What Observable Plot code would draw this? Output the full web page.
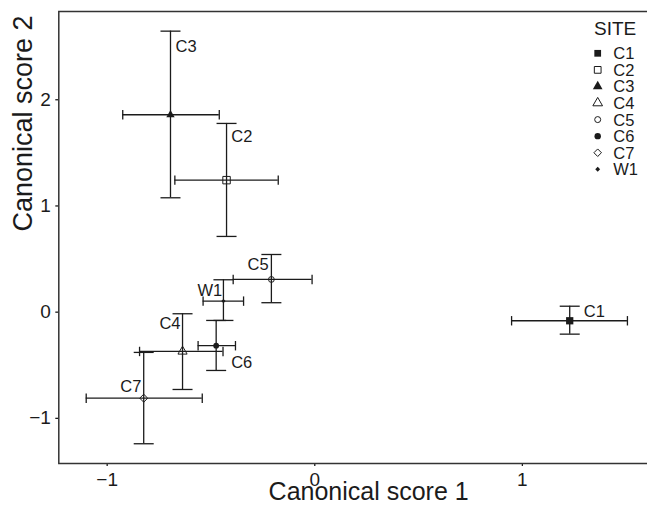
<!DOCTYPE html>
<html><head><meta charset="utf-8">
<script src="https://cdn.jsdelivr.net/npm/d3@7"></script>
<script src="https://cdn.jsdelivr.net/npm/@observablehq/plot@0.6"></script>
<style>
html,body{margin:0;padding:0;overflow:hidden;background:#fff;}
#wrap{position:relative;width:647px;height:508px;overflow:hidden;}
#wrap > svg{max-width:none !important;height:508px !important;display:block;}
#legend{position:absolute;left:0;top:0;pointer-events:none;}
</style></head><body><div id="wrap"></div>
<script>
// ---- data ----
const sites = ["C1","C2","C3","C4","C5","C6","C7","W1"];
const score1     = [ 1.228, -0.425, -0.695, -0.637, -0.209, -0.475, -0.824, -0.440];
const score1Low  = [ 0.948, -0.674, -0.925, -0.844, -0.393, -0.562, -1.101, -0.538];
const score1High = [ 1.506, -0.176, -0.460, -0.442, -0.013, -0.382, -0.542, -0.343];
const score2     = [-0.081,  1.243,  1.859, -0.370,  0.308, -0.316, -0.810,  0.104];
const score2Low  = [-0.207,  0.713,  1.077, -0.728,  0.089, -0.549, -1.239, -0.078];
const score2High = [ 0.056,  1.777,  2.646, -0.015,  0.543, -0.078, -0.379,  0.305];
const xTicks = [-1, 0, 1];
const yTicks = [-1, 0, 1, 2];
const xTitle = "Canonical score 1";
const yTitle = "Canonical score 2";
const legendTitle = "SITE";

// ---- styles ----
const ink = "#1b1b1b";
const font = "'Liberation Sans', Arial, Helvetica, sans-serif";
const symbolName = {C1:"square",C2:"square",C3:"triangle",C4:"triangle",C5:"circle",C6:"circle",C7:"diamond2",W1:"diamond2"};
const isFilled   = {C1:true,C2:false,C3:true,C4:false,C5:false,C6:true,C7:false,W1:true};
const symbolR    = {C1:4.1,C2:4.2,C3:3.1,C4:3.4,C5:2.9,C6:2.9,C7:3.6,W1:1.9};
const labelPlace = {
  C1:{anchor:"start",dx:14,dy:-8.6}, C2:{anchor:"start",dx:4.7,dy:-43},
  C3:{anchor:"start",dx:5,dy:-67.6}, C4:{anchor:"end",dx:-2,dy:-27.7},
  C5:{anchor:"end",dx:-2.7,dy:-14.7}, C6:{anchor:"start",dx:15,dy:17.4},
  C7:{anchor:"end",dx:-2.3,dy:-11}, W1:{anchor:"end",dx:-1.3,dy:-10.7}
};

const rows = sites.map((s, i) => ({
  site: s, x: score1[i], x1: score1Low[i], x2: score1High[i],
  y: score2[i], y1: score2Low[i], y2: score2High[i]
}));

const capH = {draw(ctx){ ctx.moveTo(-10,0); ctx.lineTo(10,0); }};
const capV = {draw(ctx){ ctx.moveTo(0,-4.7); ctx.lineTo(0,4.7); }};
const lw = 1.3;

const plot = Plot.plot({
  width: 678, height: 508,
  marginLeft: 58.3, marginRight: 0, marginTop: 11, marginBottom: 45,
  style: {fontFamily: font, background: "white", color: ink},
  x: {domain: [-1.233, 1.752], label: null},
  y: {domain: [-1.425, 2.831], label: null},
  marks: [
    Plot.axisX({ticks: xTicks, tickFormat: "d", tickSize: 3, tickPadding: 6, fontSize: 19, label: null, stroke: ink, strokeWidth: 1.3, fill: ink}),
    Plot.axisY({ticks: yTicks, tickFormat: "d", tickSize: 3, tickPadding: 5, fontSize: 19, label: null, stroke: ink, strokeWidth: 1.3, fill: ink}),
    Plot.frame({stroke: "#333", strokeWidth: 1.5}),
    Plot.ruleX(rows, {x: "x", y1: "y1", y2: "y2", stroke: ink, strokeWidth: lw}),
    Plot.ruleY(rows, {y: "y", x1: "x1", x2: "x2", stroke: ink, strokeWidth: lw}),
    Plot.dot(rows, {x: "x", y: "y1", symbol: capH, r: 1, fill: "none", stroke: ink, strokeWidth: lw}),
    Plot.dot(rows, {x: "x", y: "y2", symbol: capH, r: 1, fill: "none", stroke: ink, strokeWidth: lw}),
    Plot.dot(rows, {x: "x1", y: "y", symbol: capV, r: 1, fill: "none", stroke: ink, strokeWidth: lw}),
    Plot.dot(rows, {x: "x2", y: "y", symbol: capV, r: 1, fill: "none", stroke: ink, strokeWidth: lw}),
    ...rows.map(d => Plot.dot([d], {
      x: "x", y: "y", symbol: symbolName[d.site], r: symbolR[d.site],
      fill: isFilled[d.site] ? ink : "none", stroke: isFilled[d.site] ? "none" : ink, strokeWidth: 1
    })),
    ...rows.map(d => Plot.text([d], {
      x: "x", y: "y", text: "site", textAnchor: labelPlace[d.site].anchor,
      dx: labelPlace[d.site].dx, dy: labelPlace[d.site].dy, fontSize: 16.5, fill: ink
    })),
    Plot.text([xTitle], {frameAnchor: "bottom", dy: 36.2, fontSize: 25, fill: ink}),
    Plot.text([yTitle], {frameAnchor: "left", rotate: -90, dx: -35.2, dy: -6, fontSize: 27, fill: ink})
  ]
});
const wrap = document.getElementById("wrap");
wrap.appendChild(plot);

// ---- legend (inside the plot area, top right) ----
const symType = {square: d3.symbolSquare, triangle: d3.symbolTriangle, circle: d3.symbolCircle, diamond2: d3.symbolDiamond2};
const legR = {C1:3.8,C2:3.8,C3:3.6,C4:3.6,C5:3.0,C6:3.2,C7:3.4,W1:2.2};
const leg = d3.select(wrap).append("svg").attr("id","legend").attr("width",647).attr("height",508)
  .style("font-family", font);
leg.append("text").attr("x",594).attr("y",35).attr("font-size",19).attr("fill",ink).text(legendTitle);
sites.forEach((s, i) => {
  const cy = 53.3 + i * 16.57;
  const r = legR[s];
  leg.append("path")
    .attr("d", d3.symbol(symType[symbolName[s]], Math.PI * r * r)())
    .attr("transform", `translate(597.7,${cy})`)
    .attr("fill", isFilled[s] ? ink : "none")
    .attr("stroke", isFilled[s] ? "none" : ink)
    .attr("stroke-width", 1);
  leg.append("text").attr("x",613.3).attr("y",cy).attr("dy","0.36em")
    .attr("font-size",16.5).attr("fill",ink).text(s);
});
</script>
</body></html>
